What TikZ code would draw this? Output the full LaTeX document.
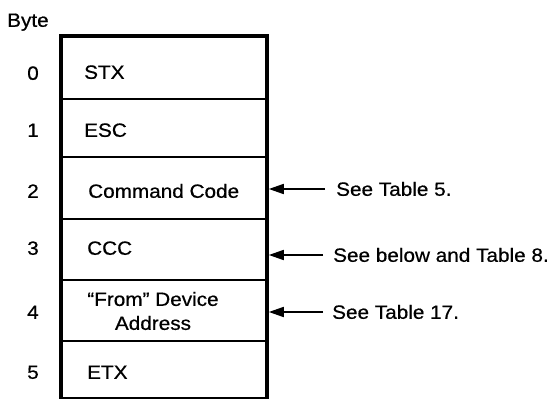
\documentclass[tikz,border=0pt]{standalone}
\usepackage{fontspec}
\setmainfont{Liberation Sans}[FakeStretch=1.08,FakeBold=0.6]
\usetikzlibrary{arrows.meta}
\tikzset{
  rowbox/.style={draw, line width=1.8pt, rectangle, minimum width=204pt, inner sep=0pt, anchor=north west},
  txt/.style={inner sep=0pt, text height=13.6pt, text depth=0pt, font=\fontsize{19.2}{24}\selectfont},
  num/.style={txt, anchor=center},
  lbl/.style={txt, anchor=west},
  ptr/.style={line width=1.7pt, -{Triangle[length=15pt,width=10pt]}}
}
\begin{document}
\begin{tikzpicture}[x=1pt,y=-1pt]
\useasboundingbox (0,0) rectangle (550,399);
% rows
\node[rowbox, minimum height=62pt] (r0) at (61,36) {};
\node[rowbox, minimum height=58pt] (r1) at (61,98) {};
\node[rowbox, minimum height=62pt] (r2) at (61,156) {};
\node[rowbox, minimum height=61pt] (r3) at (61,218) {};
\node[rowbox, minimum height=61pt] (r4) at (61,279) {};
\node[rowbox, minimum height=57pt] (r5) at (61,340) {};
\draw[line width=4pt] (r0.north west) rectangle (r5.south east);
% header
\node[lbl] (byte) at (7,20) {Byte};
% byte numbers
\node[num] (n0) at (33,73) {0};
\node[num] (n1) at (33,130) {1};
\node[num] (n2) at (33,191) {2};
\node[num] (n3) at (33,248) {3};
\node[num] (n4) at (33,312) {4};
\node[num] (n5) at (33,372) {5};
% contents
\node[lbl] (t0) at (84,72) {STX};
\node[lbl] (t1) at (84,130) {ESC};
\node[lbl] (t2) at (88,191) {Command Code};
\node[lbl] (t3) at (87,248) {CCC};
\node[inner sep=0pt, align=center, font=\fontsize{19.2}{24}\selectfont] (t4) at (153,311) {``From'' Device\\Address};
\node[lbl] (t5) at (87,372) {ETX};
% references
\node[lbl] (s2) at (336,189) {See Table 5.};
\node[lbl] (s3) at (333,255) {See below and Table 8.};
\node[lbl] (s4) at (332,312) {See Table 17.};
\draw[ptr] ([xshift=-11pt]s2.west) -- ([xshift=2pt]s2.west -| r2.east);
\draw[ptr] ([xshift=-10pt]s3.west) -- ([xshift=2pt]s3.west -| r3.east);
\draw[ptr] ([xshift=-9pt]s4.west) -- ([xshift=2pt]s4.west -| r4.east);
\end{tikzpicture}
\end{document}
